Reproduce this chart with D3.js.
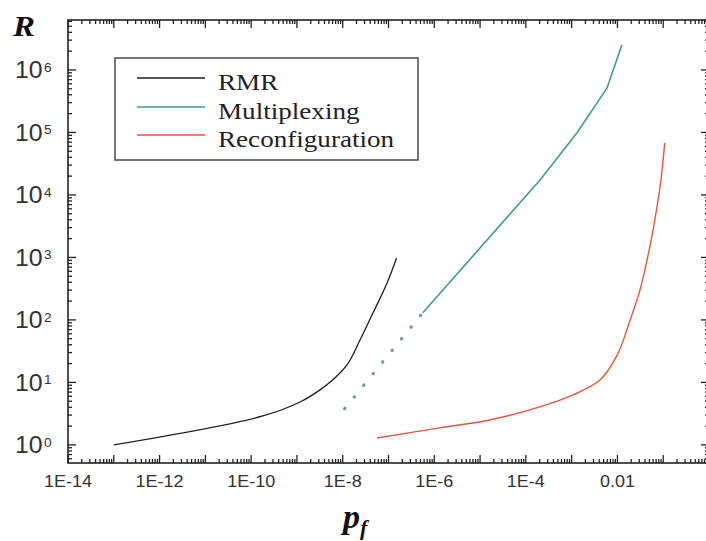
<!DOCTYPE html>
<html>
<head>
<meta charset="utf-8">
<script src="https://cdn.jsdelivr.net/npm/d3@7"></script>
<style>
  body { margin: 0; background: #fff; overflow: hidden; }
</style>
</head>
<body>
<div id="chart-area"></div>
<script>
// reliability R vs failure probability pf, log-log
const xTickVals = [1e-14, 1e-12, 1e-10, 1e-8, 1e-6, 1e-4, 1e-2]
const xTickLabels = ["1E-14", "1E-12", "1E-10", "1E-8", "1E-6", "1E-4", "0.01"]
const yTickExps = [0, 1, 2, 3, 4, 5, 6]

const seriesNames = ["RMR", "Multiplexing", "Reconfiguration"]
const seriesColors = ["#1e1e1e", "#3f9c8a", "#e8553a"]

// RMR
const rmrP = [1.0e-13, 1.8e-10, 1.2e-9, 3.2e-9, 6.1e-9, 1.24e-8, 2.4e-8, 4.6e-8, 9.3e-8, 1.5e-7]
const rmrR = [1.0, 2.9, 4.9, 7.6, 11, 19, 48, 130, 390, 980]
// Multiplexing, extrapolated part (dotted)
const muxExtP = [1.1e-8, 5.6e-7]
const muxExtR = [3.8, 130]
// Multiplexing
const muxP = [5.6e-7, 2.0e-4, 1.3e-3, 5.9e-3, 1.25e-2]
const muxR = [130, 1.7e4, 9.8e4, 5.1e5, 2.5e6]
// Reconfiguration
const recP = [5.6e-8, 1.3e-6, 1.6e-5, 2.0e-4, 1.07e-3, 4.2e-3, 9.8e-3, 1.9e-2, 3.1e-2, 5.1e-2, 7.3e-2, 8.9e-2, 0.108]
const recR = [1.29, 1.87, 2.5, 4.05, 6.3, 11, 27, 100, 300, 1480, 6400, 1.7e4, 6.8e4]

const WIDTH = 706, HEIGHT = 541
const LEFT = 68, RIGHT = 709, TOP = 20, BOTTOM = 463
const AXIS = "#222"

const svg = d3.select("#chart-area").append("svg")
  .attr("width", WIDTH)
  .attr("height", HEIGHT)
  .style("display", "block")

const x = d3.scaleLog().domain([1e-14, 1]).range([LEFT, RIGHT])
const y = d3.scaleLog().domain([0.513, 6.3e6]).range([BOTTOM, TOP])

// minor ticks 1..9 per decade
const minorX = []
for (let e = -15; e <= 0; e++) for (let m = 2; m <= 9; m++) {
  const v = m * Math.pow(10, e)
  if (v >= 1e-14 && v <= 1) minorX.push(v)
}
const majorX = d3.range(-14, 1).map(e => Math.pow(10, e))
const minorY = []
for (let e = -1; e <= 6; e++) for (let m = 2; m <= 9; m++) {
  const v = m * Math.pow(10, e)
  if (v >= 0.513 && v <= 6.3e6) minorY.push(v)
}
const majorY = yTickExps.map(e => Math.pow(10, e))

// frame
const frame = svg.append("g")
frame.append("rect")
  .attr("x", x.range()[0]).attr("y", y.range()[1])
  .attr("width", x.range()[1] - x.range()[0])
  .attr("height", y.range()[0] - y.range()[1])
  .attr("fill", "none").attr("stroke", AXIS).attr("stroke-width", 1.6)

// tick marks, inward on all four sides
function xTicks(vals, len) {
  frame.append("g").selectAll("line").data(vals).join("line")
    .attr("x1", d => x(d)).attr("x2", d => x(d))
    .attr("y1", BOTTOM).attr("y2", BOTTOM - len)
    .attr("stroke", AXIS).attr("stroke-width", 1.3)
  frame.append("g").selectAll("line").data(vals).join("line")
    .attr("x1", d => x(d)).attr("x2", d => x(d))
    .attr("y1", TOP).attr("y2", TOP + len)
    .attr("stroke", AXIS).attr("stroke-width", 1.3)
}
function yTicks(vals, len) {
  frame.append("g").selectAll("line").data(vals).join("line")
    .attr("y1", d => y(d)).attr("y2", d => y(d))
    .attr("x1", LEFT).attr("x2", LEFT + len)
    .attr("stroke", AXIS).attr("stroke-width", 1.3)
  frame.append("g").selectAll("line").data(vals).join("line")
    .attr("y1", d => y(d)).attr("y2", d => y(d))
    .attr("x1", RIGHT).attr("x2", RIGHT - len)
    .attr("stroke", AXIS).attr("stroke-width", 1.3)
}
xTicks(minorX, 4)
xTicks(majorX, 8)
yTicks(minorY, 4)
yTicks(majorY, 8)

// tick labels
svg.append("g").selectAll("text").data(xTickVals).join("text")
  .attr("transform", d => `translate(${x(d)},${BOTTOM + 24}) scale(1.06,1)`)
  .attr("text-anchor", "middle")
  .attr("fill", "#333")
  .style("font-family", "'Liberation Sans', Arial, sans-serif")
  .style("font-size", "17px")
  .text((d, i) => xTickLabels[i])

const yLab = svg.append("g").selectAll("g").data(majorY).join("g")
  .attr("transform", d => `translate(${LEFT},${y(d)})`)
yLab.append("text")
  .attr("transform", "translate(-53,8.5) scale(1.08,1)")
  .attr("fill", "#333")
  .style("font-family", "'Liberation Sans', Arial, sans-serif")
  .style("font-size", "23px")
  .text("10")
yLab.append("text")
  .attr("transform", "translate(-24,2) scale(1.05,1)")
  .attr("fill", "#333")
  .style("font-family", "'Liberation Sans', Arial, sans-serif")
  .style("font-size", "13px")
  .text((d, i) => yTickExps[i])

// lines
const zip = (a, b) => a.map((v, i) => [v, b[i]])
const smooth = d3.line().x(d => x(d[0])).y(d => y(d[1])).curve(d3.curveCatmullRom.alpha(0.5))
const straight = d3.line().x(d => x(d[0])).y(d => y(d[1]))

svg.append("path")
  .attr("d", smooth(zip(rmrP, rmrR)))
  .attr("fill", "none").attr("stroke", seriesColors[0]).attr("stroke-width", 1.3)

svg.append("path")
  .attr("d", straight(zip(muxExtP, muxExtR)))
  .attr("fill", "none").attr("stroke", "#6f9e96").attr("stroke-width", 3.2)
  .attr("stroke-linecap", "round")
  .attr("stroke-dasharray", "0.5 14.5")

svg.append("path")
  .attr("d", straight(zip(muxP, muxR)))
  .attr("fill", "none").attr("stroke", seriesColors[1]).attr("stroke-width", 1.6)

svg.append("path")
  .attr("d", smooth(zip(recP, recR)))
  .attr("fill", "none").attr("stroke", seriesColors[2]).attr("stroke-width", 1.4)

// legend
const legend = svg.append("g")
legend.append("rect")
  .attr("x", 115).attr("y", 58).attr("width", 303).attr("height", 102)
  .attr("fill", "#fff").attr("stroke", "#555").attr("stroke-width", 1.6)
seriesNames.forEach((name, i) => {
  const ly = [78, 107, 135][i]
  legend.append("line")
    .attr("x1", 137).attr("x2", 205).attr("y1", ly).attr("y2", ly)
    .attr("stroke", seriesColors[i]).attr("stroke-width", 1.6)
  legend.append("text")
    .attr("transform", `translate(218,${ly + 12}) scale(1.13,1)`)
    .attr("fill", "#222")
    .style("font-family", "'Liberation Serif', 'Times New Roman', serif")
    .style("font-size", "24px")
    .text(name)
})

// axis titles
svg.append("text")
  .attr("transform", "translate(13,36) scale(1.1,1)")
  .attr("fill", "#111")
  .style("font-family", "'Liberation Serif', 'Times New Roman', serif")
  .style("font-size", "30px").style("font-weight", "bold").style("font-style", "italic")
  .text("R")

const pf = svg.append("text")
  .attr("transform", "translate(343,528)")
  .attr("fill", "#111")
  .style("font-family", "'Liberation Serif', 'Times New Roman', serif")
  .style("font-weight", "bold").style("font-style", "italic")
pf.append("tspan").style("font-size", "34px").text("p")
pf.append("tspan").style("font-size", "22px").attr("dy", 7).text("f")
</script>
</body>
</html>
